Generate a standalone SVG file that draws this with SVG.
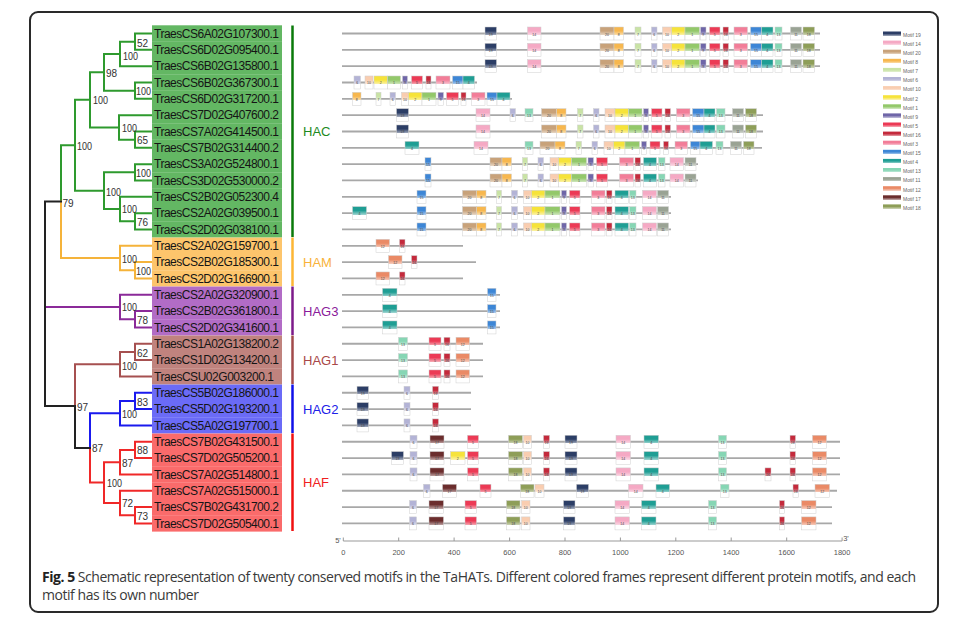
<svg xmlns="http://www.w3.org/2000/svg" width="972" height="625" viewBox="0 0 972 625">
<style>
.lb{font-family:"Liberation Sans",Arial,sans-serif;font-size:12px;fill:#151515}
.bs{font-family:"Liberation Sans",Arial,sans-serif;font-size:10px;fill:#333}
.gl{font-family:"Liberation Sans",Arial,sans-serif;font-size:13px}
.n{font-family:"Liberation Sans",Arial,sans-serif;font-size:3.5px;fill:#444;text-anchor:middle}
.lg{font-family:"Liberation Sans",Arial,sans-serif;font-size:5px;fill:#666}
.ax{font-family:"Liberation Sans",Arial,sans-serif;font-size:7.5px;fill:#555;text-anchor:middle}
.cap{font-family:"Open Sans","Noto Sans",sans-serif;font-size:14px;fill:#3a3a3a}
.m{stroke:#cfcfcf;stroke-width:.5}
.pl{stroke:#a8a8a8;stroke-width:1.8}
.br{fill:none;stroke-width:2;stroke-linecap:square}
.bar{stroke-width:2.5}
.hac{fill:#63b763}.ham{fill:#fdc56c}.hag3{fill:#b26cc6}.hag1{fill:#c0837e}.hag2{fill:#6b6bf7}.haf{fill:#fa6b6b}
</style>
<defs>
<linearGradient id="g19" x1="0" y1="0" x2="0" y2="1"><stop offset="0" stop-color="#2c3e66"/><stop offset=".3" stop-color="#2c3e66"/><stop offset=".62" stop-color="#a0a8ba"/><stop offset=".62" stop-color="#fff"/><stop offset="1" stop-color="#fff"/></linearGradient>
<linearGradient id="g14" x1="0" y1="0" x2="0" y2="1"><stop offset="0" stop-color="#f5a9c4"/><stop offset=".3" stop-color="#f5a9c4"/><stop offset=".62" stop-color="#fad8e4"/><stop offset=".62" stop-color="#fff"/><stop offset="1" stop-color="#fff"/></linearGradient>
<linearGradient id="g20" x1="0" y1="0" x2="0" y2="1"><stop offset="0" stop-color="#c8a27a"/><stop offset=".3" stop-color="#c8a27a"/><stop offset=".62" stop-color="#e6d5c3"/><stop offset=".62" stop-color="#fff"/><stop offset="1" stop-color="#fff"/></linearGradient>
<linearGradient id="g8" x1="0" y1="0" x2="0" y2="1"><stop offset="0" stop-color="#f7b74e"/><stop offset=".3" stop-color="#f7b74e"/><stop offset=".62" stop-color="#fbdfaf"/><stop offset=".62" stop-color="#fff"/><stop offset="1" stop-color="#fff"/></linearGradient>
<linearGradient id="g7" x1="0" y1="0" x2="0" y2="1"><stop offset="0" stop-color="#c9e3a5"/><stop offset=".3" stop-color="#c9e3a5"/><stop offset=".62" stop-color="#e7f2d7"/><stop offset=".62" stop-color="#fff"/><stop offset="1" stop-color="#fff"/></linearGradient>
<linearGradient id="g6" x1="0" y1="0" x2="0" y2="1"><stop offset="0" stop-color="#b3b3d6"/><stop offset=".3" stop-color="#b3b3d6"/><stop offset=".62" stop-color="#ddddED"/><stop offset=".62" stop-color="#fff"/><stop offset="1" stop-color="#fff"/></linearGradient>
<linearGradient id="g10" x1="0" y1="0" x2="0" y2="1"><stop offset="0" stop-color="#f9cdb0"/><stop offset=".3" stop-color="#f9cdb0"/><stop offset=".62" stop-color="#fce9db"/><stop offset=".62" stop-color="#fff"/><stop offset="1" stop-color="#fff"/></linearGradient>
<linearGradient id="g2" x1="0" y1="0" x2="0" y2="1"><stop offset="0" stop-color="#f6e33a"/><stop offset=".3" stop-color="#f6e33a"/><stop offset=".62" stop-color="#fbf2a6"/><stop offset=".62" stop-color="#fff"/><stop offset="1" stop-color="#fff"/></linearGradient>
<linearGradient id="g1" x1="0" y1="0" x2="0" y2="1"><stop offset="0" stop-color="#93c86a"/><stop offset=".3" stop-color="#93c86a"/><stop offset=".62" stop-color="#cee6bc"/><stop offset=".62" stop-color="#fff"/><stop offset="1" stop-color="#fff"/></linearGradient>
<linearGradient id="g9" x1="0" y1="0" x2="0" y2="1"><stop offset="0" stop-color="#6f66a8"/><stop offset=".3" stop-color="#6f66a8"/><stop offset=".62" stop-color="#bebad8"/><stop offset=".62" stop-color="#fff"/><stop offset="1" stop-color="#fff"/></linearGradient>
<linearGradient id="g5" x1="0" y1="0" x2="0" y2="1"><stop offset="0" stop-color="#ec3a55"/><stop offset=".3" stop-color="#ec3a55"/><stop offset=".62" stop-color="#f6a6b2"/><stop offset=".62" stop-color="#fff"/><stop offset="1" stop-color="#fff"/></linearGradient>
<linearGradient id="g16" x1="0" y1="0" x2="0" y2="1"><stop offset="0" stop-color="#c42a3c"/><stop offset=".3" stop-color="#c42a3c"/><stop offset=".62" stop-color="#e49fa7"/><stop offset=".62" stop-color="#fff"/><stop offset="1" stop-color="#fff"/></linearGradient>
<linearGradient id="g3" x1="0" y1="0" x2="0" y2="1"><stop offset="0" stop-color="#f27d98"/><stop offset=".3" stop-color="#f27d98"/><stop offset=".62" stop-color="#f9c4d1"/><stop offset=".62" stop-color="#fff"/><stop offset="1" stop-color="#fff"/></linearGradient>
<linearGradient id="g15" x1="0" y1="0" x2="0" y2="1"><stop offset="0" stop-color="#3d86d6"/><stop offset=".3" stop-color="#3d86d6"/><stop offset=".62" stop-color="#a8c9ed"/><stop offset=".62" stop-color="#fff"/><stop offset="1" stop-color="#fff"/></linearGradient>
<linearGradient id="g4" x1="0" y1="0" x2="0" y2="1"><stop offset="0" stop-color="#1f9e94"/><stop offset=".3" stop-color="#1f9e94"/><stop offset=".62" stop-color="#9ad3cf"/><stop offset=".62" stop-color="#fff"/><stop offset="1" stop-color="#fff"/></linearGradient>
<linearGradient id="g13" x1="0" y1="0" x2="0" y2="1"><stop offset="0" stop-color="#86d6b4"/><stop offset=".3" stop-color="#86d6b4"/><stop offset=".62" stop-color="#c8ecdd"/><stop offset=".62" stop-color="#fff"/><stop offset="1" stop-color="#fff"/></linearGradient>
<linearGradient id="g11" x1="0" y1="0" x2="0" y2="1"><stop offset="0" stop-color="#9aa394"/><stop offset=".3" stop-color="#9aa394"/><stop offset=".62" stop-color="#d2d6cf"/><stop offset=".62" stop-color="#fff"/><stop offset="1" stop-color="#fff"/></linearGradient>
<linearGradient id="g12" x1="0" y1="0" x2="0" y2="1"><stop offset="0" stop-color="#ea8a66"/><stop offset=".3" stop-color="#ea8a66"/><stop offset=".62" stop-color="#f6caba"/><stop offset=".62" stop-color="#fff"/><stop offset="1" stop-color="#fff"/></linearGradient>
<linearGradient id="g17" x1="0" y1="0" x2="0" y2="1"><stop offset="0" stop-color="#6b2d2d"/><stop offset=".3" stop-color="#6b2d2d"/><stop offset=".62" stop-color="#bca0a0"/><stop offset=".62" stop-color="#fff"/><stop offset="1" stop-color="#fff"/></linearGradient>
<linearGradient id="g18" x1="0" y1="0" x2="0" y2="1"><stop offset="0" stop-color="#8e9e58"/><stop offset=".3" stop-color="#8e9e58"/><stop offset=".62" stop-color="#ccd3b4"/><stop offset=".62" stop-color="#fff"/><stop offset="1" stop-color="#fff"/></linearGradient>

<g id="pA"><line class="pl" x1="342" y1="0" x2="820" y2="0"/>
<rect class="m" x="485" y="-6.5" width="11.5" height="13" fill="url(#g19)"/><text class="n" x="490.75" y="2">19</text>
<rect class="m" x="527.5" y="-6.5" width="13.5" height="13" fill="url(#g14)"/><text class="n" x="534.25" y="2">14</text>
<rect class="m" x="600" y="-6.5" width="14" height="13" fill="url(#g20)"/><text class="n" x="607" y="2">20</text>
<rect class="m" x="614" y="-6.5" width="9.5" height="13" fill="url(#g8)"/><text class="n" x="618.75" y="2">8</text>
<rect class="m" x="635" y="-6.5" width="6" height="13" fill="url(#g7)"/><text class="n" x="638" y="2">7</text>
<rect class="m" x="651.5" y="-6.5" width="5.5" height="13" fill="url(#g6)"/><text class="n" x="654.25" y="2">6</text>
<rect class="m" x="662.5" y="-6.5" width="9" height="13" fill="url(#g10)"/><text class="n" x="667" y="2">10</text>
<rect class="m" x="671.5" y="-6.5" width="13.5" height="13" fill="url(#g2)"/><text class="n" x="678.25" y="2">2</text>
<rect class="m" x="685" y="-6.5" width="14.5" height="13" fill="url(#g1)"/><text class="n" x="692.25" y="2">1</text>
<rect class="m" x="700.5" y="-6.5" width="5.5" height="13" fill="url(#g9)"/><text class="n" x="703.25" y="2">9</text>
<rect class="m" x="709.5" y="-6.5" width="10.5" height="13" fill="url(#g5)"/><text class="n" x="714.75" y="2">5</text>
<rect class="m" x="723" y="-6.5" width="5.5" height="13" fill="url(#g16)"/><text class="n" x="725.75" y="2">16</text>
<rect class="m" x="734" y="-6.5" width="13.5" height="13" fill="url(#g3)"/><text class="n" x="740.75" y="2">3</text>
<rect class="m" x="750.5" y="-6.5" width="11" height="13" fill="url(#g15)"/><text class="n" x="756" y="2">15</text>
<rect class="m" x="761.5" y="-6.5" width="11.5" height="13" fill="url(#g4)"/><text class="n" x="767.25" y="2">4</text>
<rect class="m" x="775" y="-6.5" width="7" height="13" fill="url(#g13)"/><text class="n" x="778.5" y="2">13</text>
<rect class="m" x="790.5" y="-6.5" width="11" height="13" fill="url(#g11)"/><text class="n" x="796" y="2">11</text>
<rect class="m" x="803" y="-6.5" width="11.5" height="13" fill="url(#g18)"/><text class="n" x="808.75" y="2">18</text>
</g>

<g id="pB"><line class="pl" x1="342" y1="0" x2="477" y2="0"/>
<rect class="m" x="354" y="-6.5" width="6.5" height="13" fill="url(#g6)"/><text class="n" x="357.25" y="2">6</text>
<rect class="m" x="365" y="-6.5" width="8" height="13" fill="url(#g10)"/><text class="n" x="369" y="2">10</text>
<rect class="m" x="374" y="-6.5" width="13.5" height="13" fill="url(#g2)"/><text class="n" x="380.75" y="2">2</text>
<rect class="m" x="387.5" y="-6.5" width="13" height="13" fill="url(#g1)"/><text class="n" x="394" y="2">1</text>
<rect class="m" x="402.5" y="-6.5" width="5" height="13" fill="url(#g9)"/><text class="n" x="405" y="2">9</text>
<rect class="m" x="411.5" y="-6.5" width="11" height="13" fill="url(#g5)"/><text class="n" x="417" y="2">5</text>
<rect class="m" x="426" y="-6.5" width="5" height="13" fill="url(#g16)"/><text class="n" x="428.5" y="2">16</text>
<rect class="m" x="436" y="-6.5" width="14" height="13" fill="url(#g3)"/><text class="n" x="443" y="2">3</text>
<rect class="m" x="452.5" y="-6.5" width="10.5" height="13" fill="url(#g15)"/><text class="n" x="457.75" y="2">15</text>
<rect class="m" x="463" y="-6.5" width="11.5" height="13" fill="url(#g4)"/><text class="n" x="468.75" y="2">4</text>
</g>

<g id="pC"><line class="pl" x1="342" y1="0" x2="512" y2="0"/>
<rect class="m" x="352.5" y="-6.5" width="8.5" height="13" fill="url(#g8)"/><text class="n" x="356.75" y="2">8</text>
<rect class="m" x="376" y="-6.5" width="5" height="13" fill="url(#g7)"/><text class="n" x="378.5" y="2">7</text>
<rect class="m" x="390" y="-6.5" width="5.5" height="13" fill="url(#g6)"/><text class="n" x="392.75" y="2">6</text>
<rect class="m" x="401.5" y="-6.5" width="7" height="13" fill="url(#g10)"/><text class="n" x="405" y="2">10</text>
<rect class="m" x="408.5" y="-6.5" width="13.5" height="13" fill="url(#g2)"/><text class="n" x="415.25" y="2">2</text>
<rect class="m" x="422" y="-6.5" width="14" height="13" fill="url(#g1)"/><text class="n" x="429" y="2">1</text>
<rect class="m" x="438" y="-6.5" width="5.5" height="13" fill="url(#g9)"/><text class="n" x="440.75" y="2">9</text>
<rect class="m" x="446.5" y="-6.5" width="12" height="13" fill="url(#g5)"/><text class="n" x="452.5" y="2">5</text>
<rect class="m" x="461" y="-6.5" width="5" height="13" fill="url(#g16)"/><text class="n" x="463.5" y="2">16</text>
<rect class="m" x="471.5" y="-6.5" width="13.5" height="13" fill="url(#g3)"/><text class="n" x="478.25" y="2">3</text>
<rect class="m" x="487" y="-6.5" width="10" height="13" fill="url(#g15)"/><text class="n" x="492" y="2">15</text>
<rect class="m" x="497" y="-6.5" width="13" height="13" fill="url(#g4)"/><text class="n" x="503.5" y="2">4</text>
</g>

<g id="pE"><line class="pl" x1="342" y1="0" x2="763" y2="0"/>
<rect class="m" x="396.5" y="-6.5" width="12" height="13" fill="url(#g19)"/><text class="n" x="402.5" y="2">19</text>
<rect class="m" x="476" y="-6.5" width="14" height="13" fill="url(#g14)"/><text class="n" x="483" y="2">14</text>
<rect class="m" x="541.5" y="-6.5" width="15" height="13" fill="url(#g20)"/><text class="n" x="549" y="2">20</text>
<rect class="m" x="556.5" y="-6.5" width="9.5" height="13" fill="url(#g8)"/><text class="n" x="561.25" y="2">8</text>
<rect class="m" x="577.5" y="-6.5" width="5.5" height="13" fill="url(#g7)"/><text class="n" x="580.25" y="2">7</text>
<rect class="m" x="593.5" y="-6.5" width="5.5" height="13" fill="url(#g6)"/><text class="n" x="596.25" y="2">6</text>
<rect class="m" x="605" y="-6.5" width="10" height="13" fill="url(#g10)"/><text class="n" x="610" y="2">10</text>
<rect class="m" x="615" y="-6.5" width="13.5" height="13" fill="url(#g2)"/><text class="n" x="621.75" y="2">2</text>
<rect class="m" x="628.5" y="-6.5" width="13.5" height="13" fill="url(#g1)"/><text class="n" x="635.25" y="2">1</text>
<rect class="m" x="643.5" y="-6.5" width="5" height="13" fill="url(#g9)"/><text class="n" x="646" y="2">9</text>
<rect class="m" x="651.5" y="-6.5" width="10.5" height="13" fill="url(#g5)"/><text class="n" x="656.75" y="2">5</text>
<rect class="m" x="665" y="-6.5" width="5.5" height="13" fill="url(#g16)"/><text class="n" x="667.75" y="2">16</text>
<rect class="m" x="676.5" y="-6.5" width="13.5" height="13" fill="url(#g3)"/><text class="n" x="683.25" y="2">3</text>
<rect class="m" x="692.5" y="-6.5" width="11.5" height="13" fill="url(#g15)"/><text class="n" x="698.25" y="2">15</text>
<rect class="m" x="704" y="-6.5" width="11" height="13" fill="url(#g4)"/><text class="n" x="709.5" y="2">4</text>
<rect class="m" x="716.5" y="-6.5" width="8.5" height="13" fill="url(#g13)"/><text class="n" x="720.75" y="2">13</text>
<rect class="m" x="732.5" y="-6.5" width="11" height="13" fill="url(#g11)"/><text class="n" x="738" y="2">11</text>
<rect class="m" x="745.5" y="-6.5" width="11" height="13" fill="url(#g18)"/><text class="n" x="751" y="2">18</text>
</g>

<g id="pF"><line class="pl" x1="342" y1="0" x2="762" y2="0"/>
<rect class="m" x="405" y="-6.5" width="14" height="13" fill="url(#g4)"/><text class="n" x="412" y="2">4</text>
<rect class="m" x="474" y="-6.5" width="14" height="13" fill="url(#g14)"/><text class="n" x="481" y="2">14</text>
<rect class="m" x="525" y="-6.5" width="8" height="13" fill="url(#g13)"/><text class="n" x="529" y="2">13</text>
<rect class="m" x="540" y="-6.5" width="15" height="13" fill="url(#g20)"/><text class="n" x="547.5" y="2">20</text>
<rect class="m" x="555" y="-6.5" width="10" height="13" fill="url(#g8)"/><text class="n" x="560" y="2">8</text>
<rect class="m" x="576" y="-6.5" width="5.5" height="13" fill="url(#g7)"/><text class="n" x="578.75" y="2">7</text>
<rect class="m" x="592" y="-6.5" width="5.5" height="13" fill="url(#g6)"/><text class="n" x="594.75" y="2">6</text>
<rect class="m" x="604" y="-6.5" width="9.5" height="13" fill="url(#g10)"/><text class="n" x="608.75" y="2">10</text>
<rect class="m" x="613.5" y="-6.5" width="11.5" height="13" fill="url(#g2)"/><text class="n" x="619.25" y="2">2</text>
<rect class="m" x="625" y="-6.5" width="14.5" height="13" fill="url(#g1)"/><text class="n" x="632.25" y="2">1</text>
<rect class="m" x="641.5" y="-6.5" width="5" height="13" fill="url(#g9)"/><text class="n" x="644" y="2">9</text>
<rect class="m" x="650" y="-6.5" width="10" height="13" fill="url(#g5)"/><text class="n" x="655" y="2">5</text>
<rect class="m" x="663.5" y="-6.5" width="5" height="13" fill="url(#g16)"/><text class="n" x="666" y="2">16</text>
<rect class="m" x="675" y="-6.5" width="12.5" height="13" fill="url(#g3)"/><text class="n" x="681.25" y="2">3</text>
<rect class="m" x="690.5" y="-6.5" width="9.5" height="13" fill="url(#g15)"/><text class="n" x="695.25" y="2">15</text>
<rect class="m" x="700" y="-6.5" width="12.5" height="13" fill="url(#g4)"/><text class="n" x="706.25" y="2">4</text>
<rect class="m" x="716" y="-6.5" width="7" height="13" fill="url(#g13)"/><text class="n" x="719.5" y="2">13</text>
<rect class="m" x="730.5" y="-6.5" width="11" height="13" fill="url(#g11)"/><text class="n" x="736" y="2">11</text>
<rect class="m" x="743.5" y="-6.5" width="10.5" height="13" fill="url(#g18)"/><text class="n" x="748.75" y="2">18</text>
</g>

<g id="pG"><line class="pl" x1="342" y1="0" x2="698" y2="0"/>
<rect class="m" x="425" y="-6.5" width="6" height="13" fill="url(#g15)"/><text class="n" x="428" y="2">15</text>
<rect class="m" x="490" y="-6.5" width="12" height="13" fill="url(#g20)"/><text class="n" x="496" y="2">20</text>
<rect class="m" x="502" y="-6.5" width="9.5" height="13" fill="url(#g8)"/><text class="n" x="506.75" y="2">8</text>
<rect class="m" x="522.5" y="-6.5" width="5" height="13" fill="url(#g7)"/><text class="n" x="525" y="2">7</text>
<rect class="m" x="538" y="-6.5" width="5.5" height="13" fill="url(#g6)"/><text class="n" x="540.75" y="2">6</text>
<rect class="m" x="550" y="-6.5" width="8.5" height="13" fill="url(#g10)"/><text class="n" x="554.25" y="2">10</text>
<rect class="m" x="558.5" y="-6.5" width="13" height="13" fill="url(#g2)"/><text class="n" x="565" y="2">2</text>
<rect class="m" x="571.5" y="-6.5" width="15" height="13" fill="url(#g1)"/><text class="n" x="579" y="2">1</text>
<rect class="m" x="588" y="-6.5" width="5.5" height="13" fill="url(#g9)"/><text class="n" x="590.75" y="2">9</text>
<rect class="m" x="596.5" y="-6.5" width="11" height="13" fill="url(#g5)"/><text class="n" x="602" y="2">5</text>
<rect class="m" x="619.5" y="-6.5" width="14" height="13" fill="url(#g3)"/><text class="n" x="626.5" y="2">3</text>
<rect class="m" x="635" y="-6.5" width="5.5" height="13" fill="url(#g16)"/><text class="n" x="637.75" y="2">16</text>
<rect class="m" x="643.5" y="-6.5" width="13" height="13" fill="url(#g4)"/><text class="n" x="650" y="2">4</text>
<rect class="m" x="658.5" y="-6.5" width="6.5" height="13" fill="url(#g13)"/><text class="n" x="661.75" y="2">13</text>
<rect class="m" x="670" y="-6.5" width="13.5" height="13" fill="url(#g14)"/><text class="n" x="676.75" y="2">14</text>
<rect class="m" x="685" y="-6.5" width="11" height="13" fill="url(#g11)"/><text class="n" x="690.5" y="2">11</text>
</g>

<g id="pH"><line class="pl" x1="342" y1="0" x2="671" y2="0"/>
<rect class="m" x="417" y="-6.5" width="9" height="13" fill="url(#g15)"/><text class="n" x="421.5" y="2">15</text>
<rect class="m" x="462.5" y="-6.5" width="14" height="13" fill="url(#g20)"/><text class="n" x="469.5" y="2">20</text>
<rect class="m" x="476.5" y="-6.5" width="9.5" height="13" fill="url(#g8)"/><text class="n" x="481.25" y="2">8</text>
<rect class="m" x="496.5" y="-6.5" width="5" height="13" fill="url(#g7)"/><text class="n" x="499" y="2">7</text>
<rect class="m" x="511.5" y="-6.5" width="6" height="13" fill="url(#g6)"/><text class="n" x="514.5" y="2">6</text>
<rect class="m" x="523.5" y="-6.5" width="8" height="13" fill="url(#g10)"/><text class="n" x="527.5" y="2">10</text>
<rect class="m" x="531.5" y="-6.5" width="13.5" height="13" fill="url(#g2)"/><text class="n" x="538.25" y="2">2</text>
<rect class="m" x="545" y="-6.5" width="15" height="13" fill="url(#g1)"/><text class="n" x="552.5" y="2">1</text>
<rect class="m" x="561.5" y="-6.5" width="5" height="13" fill="url(#g9)"/><text class="n" x="564" y="2">9</text>
<rect class="m" x="569.5" y="-6.5" width="10.5" height="13" fill="url(#g5)"/><text class="n" x="574.75" y="2">5</text>
<rect class="m" x="591.5" y="-6.5" width="13.5" height="13" fill="url(#g3)"/><text class="n" x="598.25" y="2">3</text>
<rect class="m" x="606.5" y="-6.5" width="5.5" height="13" fill="url(#g16)"/><text class="n" x="609.25" y="2">16</text>
<rect class="m" x="615" y="-6.5" width="13.5" height="13" fill="url(#g4)"/><text class="n" x="621.75" y="2">4</text>
<rect class="m" x="629.5" y="-6.5" width="6.5" height="13" fill="url(#g13)"/><text class="n" x="632.75" y="2">13</text>
<rect class="m" x="642.5" y="-6.5" width="14" height="13" fill="url(#g14)"/><text class="n" x="649.5" y="2">14</text>
<rect class="m" x="657.5" y="-6.5" width="11" height="13" fill="url(#g11)"/><text class="n" x="663" y="2">11</text>
</g>

<g id="pJ"><line class="pl" x1="342" y1="0" x2="463" y2="0"/>
<rect class="m" x="376" y="-6.5" width="13.5" height="13" fill="url(#g12)"/><text class="n" x="382.75" y="2">12</text>
<rect class="m" x="399.5" y="-6.5" width="5.5" height="13" fill="url(#g16)"/><text class="n" x="402.25" y="2">16</text>
</g>
<g id="pK"><line class="pl" x1="342" y1="0" x2="476" y2="0"/>
<rect class="m" x="388.5" y="-6.5" width="13.5" height="13" fill="url(#g12)"/><text class="n" x="395.25" y="2">12</text>
<rect class="m" x="411.5" y="-6.5" width="5.5" height="13" fill="url(#g16)"/><text class="n" x="414.25" y="2">16</text>
</g>
<g id="pL"><line class="pl" x1="342" y1="0" x2="500" y2="0"/>
<rect class="m" x="382.5" y="-6.5" width="14.5" height="13" fill="url(#g4)"/><text class="n" x="389.75" y="2">4</text>
<rect class="m" x="487.5" y="-6.5" width="8.5" height="13" fill="url(#g15)"/><text class="n" x="491.75" y="2">15</text>
</g>
<g id="pM"><line class="pl" x1="342" y1="0" x2="483" y2="0"/>
<rect class="m" x="398.5" y="-6.5" width="9" height="13" fill="url(#g13)"/><text class="n" x="403" y="2">13</text>
<rect class="m" x="429" y="-6.5" width="12" height="13" fill="url(#g5)"/><text class="n" x="435" y="2">5</text>
<rect class="m" x="444" y="-6.5" width="6" height="13" fill="url(#g16)"/><text class="n" x="447" y="2">16</text>
<rect class="m" x="456" y="-6.5" width="13.5" height="13" fill="url(#g12)"/><text class="n" x="462.75" y="2">12</text>
</g>
<g id="pN"><line class="pl" x1="342" y1="0" x2="471" y2="0"/>
<rect class="m" x="357" y="-6.5" width="11.5" height="13" fill="url(#g19)"/><text class="n" x="362.75" y="2">19</text>
<rect class="m" x="404" y="-6.5" width="6" height="13" fill="url(#g6)"/><text class="n" x="407" y="2">6</text>
<rect class="m" x="432.5" y="-6.5" width="6" height="13" fill="url(#g16)"/><text class="n" x="435.5" y="2">16</text>
</g>
<g id="pO"><line class="pl" x1="342" y1="0" x2="840" y2="0"/>
<rect class="m" x="410" y="-6.5" width="7" height="13" fill="url(#g6)"/><text class="n" x="413.5" y="2">6</text>
<rect class="m" x="430" y="-6.5" width="14" height="13" fill="url(#g17)"/><text class="n" x="437" y="2">17</text>
<rect class="m" x="467.5" y="-6.5" width="11" height="13" fill="url(#g5)"/><text class="n" x="473" y="2">5</text>
<rect class="m" x="508.5" y="-6.5" width="14" height="13" fill="url(#g18)"/><text class="n" x="515.5" y="2">18</text>
<rect class="m" x="523.5" y="-6.5" width="8" height="13" fill="url(#g10)"/><text class="n" x="527.5" y="2">10</text>
<rect class="m" x="543.5" y="-6.5" width="6" height="13" fill="url(#g16)"/><text class="n" x="546.5" y="2">16</text>
<rect class="m" x="565" y="-6.5" width="12" height="13" fill="url(#g19)"/><text class="n" x="571" y="2">19</text>
<rect class="m" x="616" y="-6.5" width="14.5" height="13" fill="url(#g14)"/><text class="n" x="623.25" y="2">14</text>
<rect class="m" x="644" y="-6.5" width="14.5" height="13" fill="url(#g4)"/><text class="n" x="651.25" y="2">4</text>
<rect class="m" x="718.5" y="-6.5" width="8" height="13" fill="url(#g13)"/><text class="n" x="722.5" y="2">13</text>
<rect class="m" x="790" y="-6.5" width="5.5" height="13" fill="url(#g16)"/><text class="n" x="792.75" y="2">16</text>
<rect class="m" x="812.5" y="-6.5" width="14" height="13" fill="url(#g12)"/><text class="n" x="819.5" y="2">12</text>
</g>
<g id="pR"><line class="pl" x1="342" y1="0" x2="837" y2="0"/>
<rect class="m" x="423.5" y="-6.5" width="6.5" height="13" fill="url(#g6)"/><text class="n" x="426.75" y="2">6</text>
<rect class="m" x="442.5" y="-6.5" width="14" height="13" fill="url(#g17)"/><text class="n" x="449.5" y="2">17</text>
<rect class="m" x="480" y="-6.5" width="11" height="13" fill="url(#g5)"/><text class="n" x="485.5" y="2">5</text>
<rect class="m" x="520.5" y="-6.5" width="13.5" height="13" fill="url(#g18)"/><text class="n" x="527.25" y="2">18</text>
<rect class="m" x="535" y="-6.5" width="9" height="13" fill="url(#g10)"/><text class="n" x="539.5" y="2">10</text>
<rect class="m" x="576.5" y="-6.5" width="12" height="13" fill="url(#g19)"/><text class="n" x="582.5" y="2">19</text>
<rect class="m" x="628.5" y="-6.5" width="14.5" height="13" fill="url(#g14)"/><text class="n" x="635.75" y="2">14</text>
<rect class="m" x="656" y="-6.5" width="13.5" height="13" fill="url(#g4)"/><text class="n" x="662.75" y="2">4</text>
<rect class="m" x="720.5" y="-6.5" width="8.5" height="13" fill="url(#g13)"/><text class="n" x="724.75" y="2">13</text>
<rect class="m" x="793" y="-6.5" width="5.5" height="13" fill="url(#g16)"/><text class="n" x="795.75" y="2">16</text>
<rect class="m" x="815" y="-6.5" width="14.5" height="13" fill="url(#g12)"/><text class="n" x="822.25" y="2">12</text>
</g>
<g id="pS"><line class="pl" x1="342" y1="0" x2="832" y2="0"/>
<rect class="m" x="409.5" y="-6.5" width="7" height="13" fill="url(#g6)"/><text class="n" x="413" y="2">6</text>
<rect class="m" x="429" y="-6.5" width="14.5" height="13" fill="url(#g17)"/><text class="n" x="436.25" y="2">17</text>
<rect class="m" x="465" y="-6.5" width="11.5" height="13" fill="url(#g5)"/><text class="n" x="470.75" y="2">5</text>
<rect class="m" x="506.5" y="-6.5" width="13.5" height="13" fill="url(#g18)"/><text class="n" x="513.25" y="2">18</text>
<rect class="m" x="521.5" y="-6.5" width="8.5" height="13" fill="url(#g10)"/><text class="n" x="525.75" y="2">10</text>
<rect class="m" x="563.5" y="-6.5" width="11.5" height="13" fill="url(#g19)"/><text class="n" x="569.25" y="2">19</text>
<rect class="m" x="615" y="-6.5" width="14.5" height="13" fill="url(#g14)"/><text class="n" x="622.25" y="2">14</text>
<rect class="m" x="641.5" y="-6.5" width="14.5" height="13" fill="url(#g4)"/><text class="n" x="648.75" y="2">4</text>
<rect class="m" x="708.5" y="-6.5" width="8" height="13" fill="url(#g13)"/><text class="n" x="712.5" y="2">13</text>
<rect class="m" x="779.5" y="-6.5" width="5" height="13" fill="url(#g16)"/><text class="n" x="782" y="2">16</text>
<rect class="m" x="801.5" y="-6.5" width="14.5" height="13" fill="url(#g12)"/><text class="n" x="808.75" y="2">12</text>
</g>
</defs>

<rect x="0" y="0" width="972" height="625" fill="#fff"/>
<rect x="30" y="12" width="908" height="600" rx="8" fill="none" stroke="#2a2a2a" stroke-width="2"/>

<g id="leaves">
<g id="n0" transform="translate(0,33.5)"><rect class="hac" x="152" y="-8.2" width="130" height="16.5"/><text class="lb" x="154" y="4.2" textLength="125">TraesCS6A02G107300.1</text><use href="#pA"/></g>
<g id="n1" transform="translate(0,49.83)"><rect class="hac" x="152" y="-8.2" width="130" height="16.5"/><text class="lb" x="154" y="4.2" textLength="125">TraesCS6D02G095400.1</text><use href="#pA"/></g>
<g id="n2" transform="translate(0,66.16)"><rect class="hac" x="152" y="-8.2" width="130" height="16.5"/><text class="lb" x="154" y="4.2" textLength="125">TraesCS6B02G135800.1</text><use href="#pA"/></g>
<g id="n3" transform="translate(0,82.49)"><rect class="hac" x="152" y="-8.2" width="130" height="16.5"/><text class="lb" x="154" y="4.2" textLength="125">TraesCS6B02G367300.1</text><use href="#pB"/></g>
<g id="n4" transform="translate(0,98.82)"><rect class="hac" x="152" y="-8.2" width="130" height="16.5"/><text class="lb" x="154" y="4.2" textLength="125">TraesCS6D02G317200.1</text><use href="#pC"/></g>
<g id="n5" transform="translate(0,115.15)"><rect class="hac" x="152" y="-8.2" width="130" height="16.5"/><text class="lb" x="154" y="4.2" textLength="125">TraesCS7D02G407600.2</text><use href="#pE"/>
<rect class="m" x="510" y="-6.5" width="5.5" height="13" fill="url(#g6)"/><text class="n" x="512.75" y="2">6</text>
<rect class="m" x="525" y="-6.5" width="8" height="13" fill="url(#g13)"/><text class="n" x="529" y="2">13</text></g>
<g id="n6" transform="translate(0,131.48)"><rect class="hac" x="152" y="-8.2" width="130" height="16.5"/><text class="lb" x="154" y="4.2" textLength="125">TraesCS7A02G414500.1</text><use href="#pE"/></g>
<g id="n7" transform="translate(0,147.81)"><rect class="hac" x="152" y="-8.2" width="130" height="16.5"/><text class="lb" x="154" y="4.2" textLength="125">TraesCS7B02G314400.2</text><use href="#pF"/></g>
<g id="n8" transform="translate(0,164.14)"><rect class="hac" x="152" y="-8.2" width="130" height="16.5"/><text class="lb" x="154" y="4.2" textLength="125">TraesCS3A02G524800.1</text><use href="#pG"/></g>
<g id="n9" transform="translate(0,180.47)"><rect class="hac" x="152" y="-8.2" width="130" height="16.5"/><text class="lb" x="154" y="4.2" textLength="125">TraesCS3D02G530000.2</text><use href="#pG"/></g>
<g id="n10" transform="translate(0,196.8)"><rect class="hac" x="152" y="-8.2" width="130" height="16.5"/><text class="lb" x="154" y="4.2" textLength="125">TraesCS2B02G052300.4</text><use href="#pH"/></g>
<g id="n11" transform="translate(0,213.13)"><rect class="hac" x="152" y="-8.2" width="130" height="16.5"/><text class="lb" x="154" y="4.2" textLength="125">TraesCS2A02G039500.1</text><use href="#pH"/>
<rect class="m" x="352.5" y="-6.5" width="14" height="13" fill="url(#g4)"/><text class="n" x="359.5" y="2">4</text></g>
<g id="n12" transform="translate(0,229.46)"><rect class="hac" x="152" y="-8.2" width="130" height="16.3"/><text class="lb" x="154" y="4.2" textLength="125">TraesCS2D02G038100.1</text><use href="#pH"/></g>
<g id="n13" transform="translate(0,245.79)"><rect class="ham" x="152" y="-8.2" width="130" height="16.5"/><text class="lb" x="154" y="4.2" textLength="125">TraesCS2A02G159700.1</text><use href="#pJ"/></g>
<g id="n14" transform="translate(0,262.12)"><rect class="ham" x="152" y="-8.2" width="130" height="16.5"/><text class="lb" x="154" y="4.2" textLength="125">TraesCS2B02G185300.1</text><use href="#pK"/></g>
<g id="n15" transform="translate(0,278.45)"><rect class="ham" x="152" y="-8.2" width="130" height="16.3"/><text class="lb" x="154" y="4.2" textLength="125">TraesCS2D02G166900.1</text><use href="#pJ"/></g>
<g id="n16" transform="translate(0,294.78)"><rect class="hag3" x="152" y="-8.2" width="130" height="16.5"/><text class="lb" x="154" y="4.2" textLength="125">TraesCS2A02G320900.1</text><use href="#pL"/></g>
<g id="n17" transform="translate(0,311.11)"><rect class="hag3" x="152" y="-8.2" width="130" height="16.5"/><text class="lb" x="154" y="4.2" textLength="125">TraesCS2B02G361800.1</text><use href="#pL"/></g>
<g id="n18" transform="translate(0,327.44)"><rect class="hag3" x="152" y="-8.2" width="130" height="16.3"/><text class="lb" x="154" y="4.2" textLength="125">TraesCS2D02G341600.1</text><use href="#pL"/></g>
<g id="n19" transform="translate(0,343.77)"><rect class="hag1" x="152" y="-8.2" width="130" height="16.5"/><text class="lb" x="154" y="4.2" textLength="125">TraesCS1A02G138200.2</text><use href="#pM"/></g>
<g id="n20" transform="translate(0,360.1)"><rect class="hag1" x="152" y="-8.2" width="130" height="16.5"/><text class="lb" x="154" y="4.2" textLength="125">TraesCS1D02G134200.1</text><use href="#pM"/></g>
<g id="n21" transform="translate(0,376.43)"><rect class="hag1" x="152" y="-8.2" width="130" height="16.3"/><text class="lb" x="154" y="4.2" textLength="120">TraesCSU02G003200.1</text><use href="#pM"/></g>
<g id="n22" transform="translate(0,392.76)"><rect class="hag2" x="152" y="-8.2" width="130" height="16.5"/><text class="lb" x="154" y="4.2" textLength="125">TraesCS5B02G186000.1</text><use href="#pN"/></g>
<g id="n23" transform="translate(0,409.09)"><rect class="hag2" x="152" y="-8.2" width="130" height="16.5"/><text class="lb" x="154" y="4.2" textLength="125">TraesCS5D02G193200.1</text><use href="#pN"/></g>
<g id="n24" transform="translate(0,425.42)"><rect class="hag2" x="152" y="-8.2" width="130" height="16.3"/><text class="lb" x="154" y="4.2" textLength="125">TraesCS5A02G197700.1</text><use href="#pN"/></g>
<g id="n25" transform="translate(0,441.75)"><rect class="haf" x="152" y="-8.2" width="130" height="16.5"/><text class="lb" x="154" y="4.2" textLength="125">TraesCS7B02G431500.1</text><use href="#pO"/></g>
<g id="n26" transform="translate(0,458.08)"><rect class="haf" x="152" y="-8.2" width="130" height="16.5"/><text class="lb" x="154" y="4.2" textLength="125">TraesCS7D02G505200.1</text><use href="#pO"/>
<rect class="m" x="391.5" y="-6.5" width="12" height="13" fill="url(#g19)"/><text class="n" x="397.5" y="2">19</text>
<rect class="m" x="450.5" y="-6.5" width="14.5" height="13" fill="url(#g2)"/><text class="n" x="457.75" y="2">2</text></g>
<g id="n27" transform="translate(0,474.41)"><rect class="haf" x="152" y="-8.2" width="130" height="16.5"/><text class="lb" x="154" y="4.2" textLength="125">TraesCS7A02G514800.1</text><use href="#pO"/>
<rect class="m" x="765" y="-6.5" width="6" height="13" fill="url(#g16)"/><text class="n" x="768" y="2">16</text></g>
<g id="n28" transform="translate(0,490.74)"><rect class="haf" x="152" y="-8.2" width="130" height="16.5"/><text class="lb" x="154" y="4.2" textLength="125">TraesCS7A02G515000.1</text><use href="#pR"/></g>
<g id="n29" transform="translate(0,507.07)"><rect class="haf" x="152" y="-8.2" width="130" height="16.5"/><text class="lb" x="154" y="4.2" textLength="125">TraesCS7B02G431700.2</text><use href="#pS"/></g>
<g id="n30" transform="translate(0,523.4)"><rect class="haf" x="152" y="-8.2" width="130" height="16.4"/><text class="lb" x="154" y="4.2" textLength="125">TraesCS7D02G505400.1</text><use href="#pS"/></g>
</g>

<g id="connectors">
<path class="br" stroke="#2e9a2e" d="M61,201.6V145.3H75 M75,99.85V190.7 M75,99.85H90 M75,190.7H104 M90,72.3V127.4 M90,72.3H104 M90,127.4H119 M104,53.9V90.66 M104,53.9H120 M104,90.66H135 M120,41.67V66.16 M120,41.67H135 M120,66.16H151 M135,33.5V49.83 M135,33.5H151 M135,49.83H151 M135,82.49V98.82 M135,82.49H151 M135,98.82H151 M119,115.15V139.65 M119,115.15H151 M119,139.65H135 M135,131.48V147.81 M135,131.48H151 M135,147.81H151 M104,172.3V209.05 M104,172.3H135 M104,209.05H120 M135,164.14V180.47 M135,164.14H151 M135,180.47H151 M120,196.8V221.3 M120,196.8H151 M120,221.3H135 M135,213.13V229.46 M135,213.13H151 M135,229.46H151"/>
<path class="br" stroke="#f5b33a" d="M61,201.6V258H120 M120,245.79V270.3 M120,245.79H151 M120,270.3H135 M135,262.12V278.45 M135,262.12H151 M135,278.45H151"/>
<path class="br" stroke="#8b2a99" d="M45,307H120 M120,294.78V319.3 M120,294.78H151 M120,319.3H135 M135,311.11V327.44 M135,311.11H151 M135,327.44H151"/>
<path class="br" stroke="#a65050" d="M75,406.05V364.2H120 M120,351.9V376.43 M120,351.9H135 M120,376.43H151 M135,343.77V360.1 M135,343.77H151 M135,360.1H151"/>
<path class="br" stroke="#1a1aee" d="M90,447.9V413.2H120 M120,400.9V425.42 M120,400.9H135 M120,425.42H151 M135,392.76V409.09 M135,392.76H151 M135,409.09H151"/>
<path class="br" stroke="#f02828" d="M90,447.9V482.6H104 M104,462.2V503 M104,462.2H120 M104,503H120 M120,449.9V474.41 M120,449.9H135 M120,474.41H151 M135,441.75V458.08 M135,441.75H151 M135,458.08H151 M120,490.74V515.2 M120,490.74H151 M120,515.2H135 M135,507.07V523.4 M135,507.07H151 M135,523.4H151"/>
<path class="br" stroke="#222" d="M45,201.6V406.05 M45,201.6H61 M45,406.05H75 M75,406.05V447.9H90"/>
<g id="bootstrap">
<text class="bs" x="137" y="46.5">52</text>
<text class="bs" x="123" y="60" textLength="15" lengthAdjust="spacingAndGlyphs">100</text>
<text class="bs" x="136" y="94.5" textLength="15" lengthAdjust="spacingAndGlyphs">100</text>
<text class="bs" x="106" y="76.5">98</text>
<text class="bs" x="137" y="144">65</text>
<text class="bs" x="122" y="131.5" textLength="15" lengthAdjust="spacingAndGlyphs">100</text>
<text class="bs" x="93" y="104" textLength="15" lengthAdjust="spacingAndGlyphs">100</text>
<text class="bs" x="136" y="177" textLength="15" lengthAdjust="spacingAndGlyphs">100</text>
<text class="bs" x="137" y="225.5">76</text>
<text class="bs" x="122" y="213" textLength="15" lengthAdjust="spacingAndGlyphs">100</text>
<text class="bs" x="106" y="195.5" textLength="15" lengthAdjust="spacingAndGlyphs">100</text>
<text class="bs" x="77" y="150" textLength="15" lengthAdjust="spacingAndGlyphs">100</text>
<text class="bs" x="62.5" y="206.5">79</text>
<text class="bs" x="122" y="263" textLength="15" lengthAdjust="spacingAndGlyphs">100</text>
<text class="bs" x="136" y="275" textLength="15" lengthAdjust="spacingAndGlyphs">100</text>
<text class="bs" x="122" y="311" textLength="15" lengthAdjust="spacingAndGlyphs">100</text>
<text class="bs" x="137" y="324">78</text>
<text class="bs" x="137" y="356.5">62</text>
<text class="bs" x="122" y="370" textLength="15" lengthAdjust="spacingAndGlyphs">100</text>
<text class="bs" x="77" y="410.5">97</text>
<text class="bs" x="137" y="405.5">83</text>
<text class="bs" x="122" y="417.5" textLength="15" lengthAdjust="spacingAndGlyphs">100</text>
<text class="bs" x="92" y="452">87</text>
<text class="bs" x="137" y="454">88</text>
<text class="bs" x="122" y="467">87</text>
<text class="bs" x="107" y="487" textLength="15" lengthAdjust="spacingAndGlyphs">100</text>
<text class="bs" x="122" y="507">72</text>
<text class="bs" x="137" y="520">73</text>
</g>
</g>

<g id="groups">
<line class="bar" x1="292.5" y1="25.5" x2="292.5" y2="237" stroke="#0a7a0a"/>
<line class="bar" x1="292.5" y1="237.5" x2="292.5" y2="286" stroke="#fdb634"/>
<line class="bar" x1="292.5" y1="286.5" x2="292.5" y2="335" stroke="#7d1a8a"/>
<line class="bar" x1="292.5" y1="335.5" x2="292.5" y2="384" stroke="#a24a4a"/>
<line class="bar" x1="292.5" y1="384.5" x2="292.5" y2="433" stroke="#1010e8"/>
<line class="bar" x1="292.5" y1="433.5" x2="292.5" y2="531" stroke="#f01010"/>
<text class="gl" x="303" y="136" fill="#1d8a1d">HAC</text>
<text class="gl" x="303" y="266.5" fill="#f9b23a">HAM</text>
<text class="gl" x="303" y="315.5" fill="#8a1a9a">HAG3</text>
<text class="gl" x="303" y="364.5" fill="#a84848">HAG1</text>
<text class="gl" x="303" y="413.5" fill="#2020e8">HAG2</text>
<text class="gl" x="303" y="486.5" fill="#f02020">HAF</text>
</g>

<g id="axis">
<line x1="343.3" y1="541" x2="842.1" y2="541" stroke="#999" stroke-width="1"/>
<path d="M343.3,537.5V541 M398.7,537.5V541 M454.1,537.5V541 M509.6,537.5V541 M565,537.5V541 M620.4,537.5V541 M675.8,537.5V541 M731.2,537.5V541 M786.7,537.5V541 M842.1,537.5V541" stroke="#999" stroke-width="1"/>
<text class="ax" x="343.3" y="555">0</text>
<text class="ax" x="398.7" y="555">200</text>
<text class="ax" x="454.1" y="555">400</text>
<text class="ax" x="509.6" y="555">600</text>
<text class="ax" x="565" y="555">800</text>
<text class="ax" x="620.4" y="555">1000</text>
<text class="ax" x="675.8" y="555">1200</text>
<text class="ax" x="731.2" y="555">1400</text>
<text class="ax" x="786.7" y="555">1600</text>
<text class="ax" x="842.1" y="555">1800</text>
<text class="ax" x="338" y="543">5'</text>
<text class="ax" x="846" y="541">3'</text>
</g>

<g id="legend">
<rect x="883" y="31.5" width="18" height="7" fill="url(#g19)"/><text class="lg" x="903" y="36.8">Motif 19</text>
<rect x="883" y="40.6" width="18" height="7" fill="url(#g14)"/><text class="lg" x="903" y="45.9">Motif 14</text>
<rect x="883" y="49.7" width="18" height="7" fill="url(#g20)"/><text class="lg" x="903" y="55">Motif 20</text>
<rect x="883" y="58.8" width="18" height="7" fill="url(#g8)"/><text class="lg" x="903" y="64.1">Motif 8</text>
<rect x="883" y="67.9" width="18" height="7" fill="url(#g7)"/><text class="lg" x="903" y="73.2">Motif 7</text>
<rect x="883" y="77" width="18" height="7" fill="url(#g6)"/><text class="lg" x="903" y="82.3">Motif 6</text>
<rect x="883" y="86.1" width="18" height="7" fill="url(#g10)"/><text class="lg" x="903" y="91.4">Motif 10</text>
<rect x="883" y="95.2" width="18" height="7" fill="url(#g2)"/><text class="lg" x="903" y="100.5">Motif 2</text>
<rect x="883" y="104.3" width="18" height="7" fill="url(#g1)"/><text class="lg" x="903" y="109.6">Motif 1</text>
<rect x="883" y="113.4" width="18" height="7" fill="url(#g9)"/><text class="lg" x="903" y="118.7">Motif 9</text>
<rect x="883" y="122.5" width="18" height="7" fill="url(#g5)"/><text class="lg" x="903" y="127.8">Motif 5</text>
<rect x="883" y="131.6" width="18" height="7" fill="url(#g16)"/><text class="lg" x="903" y="136.9">Motif 16</text>
<rect x="883" y="140.7" width="18" height="7" fill="url(#g3)"/><text class="lg" x="903" y="146">Motif 3</text>
<rect x="883" y="149.8" width="18" height="7" fill="url(#g15)"/><text class="lg" x="903" y="155.1">Motif 15</text>
<rect x="883" y="158.9" width="18" height="7" fill="url(#g4)"/><text class="lg" x="903" y="164.2">Motif 4</text>
<rect x="883" y="168" width="18" height="7" fill="url(#g13)"/><text class="lg" x="903" y="173.3">Motif 13</text>
<rect x="883" y="177.1" width="18" height="7" fill="url(#g11)"/><text class="lg" x="903" y="182.4">Motif 11</text>
<rect x="883" y="186.2" width="18" height="7" fill="url(#g12)"/><text class="lg" x="903" y="191.5">Motif 12</text>
<rect x="883" y="195.3" width="18" height="7" fill="url(#g17)"/><text class="lg" x="903" y="200.6">Motif 17</text>
<rect x="883" y="204.4" width="18" height="7" fill="url(#g18)"/><text class="lg" x="903" y="209.7">Motif 18</text>
</g>

<g id="caption">
<text class="cap" x="42" y="582" textLength="874" lengthAdjust="spacing"><tspan font-weight="bold" fill="#222">Fig. 5</tspan> Schematic representation of twenty conserved motifs in the TaHATs. Different colored frames represent different protein motifs, and each</text>
<text class="cap" x="42" y="600" textLength="157" lengthAdjust="spacing">motif has its own number</text>
</g>
</svg>
